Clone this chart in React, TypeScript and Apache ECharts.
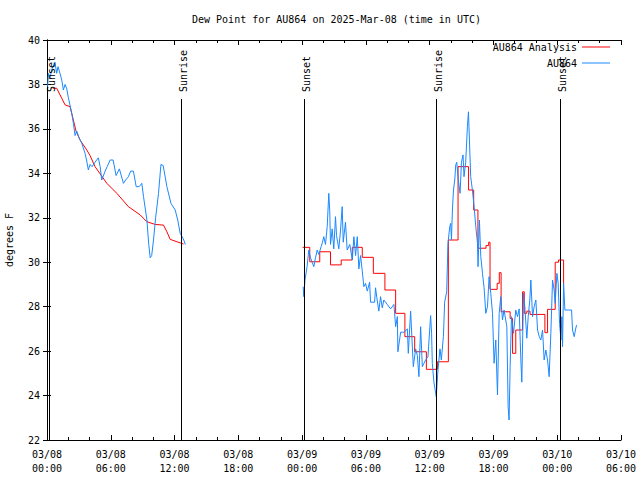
import React, { useEffect, useRef } from 'react';
import * as echarts from 'echarts';

const FONT = '"DejaVu Sans Mono", "Liberation Mono", monospace';

const titleText = 'Dew Point for AU864 on 2025-Mar-08 (time in UTC)';
const yAxisTitle = 'degrees F';
const analysisName = 'AU864 Analysis';
const obsName = 'AU864';

// hours since 03/08 00:00 UTC
const sunT = [0.15, 12.63, 24.16, 36.57, 48.28];
const sunLabels = ['Sunset', 'Sunrise', 'Sunset', 'Sunrise', 'Sunset'];

const redSeg1T = [0.54, 0.91, 1.7, 2.17, 2.48, 2.73, 3.11, 3.74, 4.05, 4.52, 5.63, 6.57, 7.66, 8.76, 9.4, 10.18, 10.96, 11.28, 11.59, 12.22, 12.85];
const redSeg1V = [37.83, 37.83, 37.08, 37.0, 36.4, 35.9, 35.5, 35.05, 34.8, 34.3, 33.55, 33.1, 32.5, 32.13, 31.82, 31.7, 31.67, 31.37, 31.03, 30.92, 30.82];

const redSeg2T = [24.05, 24.72, 25.66, 26.67, 27.68, 28.72, 29.66, 30.7, 31.79, 32.8, 33.67, 34.59, 35.69, 36.73, 37.76, 38.67, 39.66, 40.14, 40.54, 41.3, 41.55, 41.68, 42.35, 42.55, 42.72, 43.57, 43.8, 44.1, 44.74, 44.9, 45.14, 45.44, 46.84, 47.09, 47.81, 48.13, 48.6];
const redSeg2V = [30.67, 30.02, 30.47, 29.88, 30.1, 30.67, 30.22, 29.5, 28.75, 27.7, 26.65, 25.97, 25.18, 25.52, 31.0, 34.3, 33.25, 32.35, 30.63, 30.75, 30.9, 28.78, 29.05, 29.53, 27.77, 27.47, 25.9, 26.95, 28.67, 27.7, 27.8, 27.65, 26.83, 27.88, 30.0, 30.1, 29.0];

const blueSeg1T = [0.05, 0.14, 0.28, 0.47, 0.75, 0.91, 1.04, 1.16, 1.39, 1.54, 1.7, 1.86, 2.01, 2.33, 2.5, 2.64, 2.8, 3.02, 3.27, 3.58, 3.72, 3.89, 4.05, 4.24, 4.52, 4.83, 5.0, 5.15, 5.47, 5.66, 5.94, 6.22, 6.5, 6.81, 7.19, 7.4, 7.66, 7.87, 8.13, 8.39, 8.67, 8.92, 9.08, 9.4, 9.57, 9.71, 9.85, 10.02, 10.22, 10.49, 10.72, 10.93, 11.28, 11.66, 12.06, 12.3, 12.53, 12.79, 12.91, 13.0];
const blueSeg1V = [37.9, 38.5, 38.3, 38.7, 39.0, 38.5, 38.8, 38.6, 38.2, 37.75, 38.0, 37.8, 37.4, 36.7, 36.2, 35.7, 35.9, 35.6, 35.35, 34.9, 34.6, 34.15, 34.4, 34.3, 34.5, 34.7, 34.3, 33.7, 34.1, 34.3, 34.6, 34.6, 33.9, 34.2, 33.55, 33.7, 33.85, 34.1, 34.1, 33.4, 33.4, 33.55, 32.95, 31.9, 30.8, 30.2, 30.3, 31.0, 32.0, 33.1, 34.4, 34.35, 33.4, 32.65, 32.35, 31.9, 31.3, 31.08, 30.95, 30.8];

const blueSeg2T = [24.1, 24.16, 24.27, 24.47, 24.63, 24.79, 24.95, 25.1, 25.26, 25.42, 25.57, 25.79, 25.92, 26.04, 26.2, 26.36, 26.51, 26.6, 26.67, 26.83, 26.98, 27.14, 27.24, 27.45, 27.61, 27.77, 27.87, 28.08, 28.24, 28.49, 28.72, 28.87, 29.03, 29.19, 29.34, 29.5, 29.66, 29.81, 29.97, 30.13, 30.35, 30.44, 30.82, 30.91, 31.03, 31.22, 31.38, 31.54, 31.69, 32.01, 32.32, 32.64, 32.8, 32.96, 33.01, 33.27, 33.58, 33.9, 33.99, 34.21, 34.46, 34.68, 34.84, 34.99, 35.15, 35.31, 35.46, 35.62, 35.84, 36.09, 36.18, 36.25, 36.4, 36.62, 36.78, 36.97, 37.1, 37.29, 37.41, 37.6, 37.72, 37.89, 37.98, 38.05, 38.14, 38.24, 38.36, 38.45, 38.55, 38.67, 38.86, 38.99, 39.14, 39.23, 39.39, 39.55, 39.65, 39.74, 39.86, 40.02, 40.18, 40.34, 40.5, 40.55, 40.68, 40.81, 40.97, 41.12, 41.28, 41.44, 41.59, 41.75, 41.91, 42.06, 42.22, 42.38, 42.54, 42.69, 42.85, 43.0, 43.26, 43.38, 43.47, 43.57, 43.7, 43.89, 44.1, 44.26, 44.42, 44.58, 44.67, 44.83, 44.95, 45.14, 45.27, 45.42, 45.52, 45.68, 45.83, 45.99, 46.15, 46.31, 46.46, 46.62, 46.77, 46.93, 47.09, 47.24, 47.4, 47.56, 47.71, 47.81, 47.97, 48.09, 48.22, 48.35, 48.44, 48.5, 48.6, 48.72, 49.1, 49.35, 49.44, 49.6, 49.71, 49.82];
const blueSeg2V = [28.9, 28.45, 29.2, 29.8, 30.55, 30.2, 30.0, 29.8, 30.2, 30.55, 30.35, 30.7, 30.9, 31.15, 30.8, 31.6, 33.1, 32.3, 30.8, 31.5, 30.6, 32.05, 31.2, 30.6, 31.4, 32.5, 30.9, 31.8, 30.55, 30.8, 30.1, 31.15, 30.3, 31.15, 29.7, 30.3, 29.6, 28.9, 29.05, 28.7, 29.1, 28.2, 28.2, 28.85, 28.4, 27.8, 28.45, 27.95, 28.3, 28.1, 27.9, 28.1, 27.1, 27.55, 25.97, 26.85, 26.85, 27.0, 25.9, 27.8, 25.3, 26.1, 25.8, 24.85, 27.1, 25.3, 25.45, 25.6, 25.75, 27.6, 26.8, 25.45, 24.6, 23.95, 25.15, 26.1, 25.6, 26.65, 28.2, 28.67, 30.85, 31.6, 31.75, 31.0, 32.35, 33.25, 33.7, 34.37, 34.5, 33.8, 33.1, 34.5, 34.83, 33.85, 34.5, 36.1, 36.77, 35.5, 33.85, 33.25, 32.5, 31.6, 30.85, 29.8, 31.9, 30.25, 29.5, 28.85, 27.7, 28.0, 29.35, 28.6, 27.7, 25.45, 26.5, 24.03, 27.7, 28.45, 27.4, 27.85, 27.1, 23.5, 22.9, 25.3, 27.55, 26.8, 27.85, 27.55, 27.9, 25.6, 24.6, 28.6, 28.0, 26.58, 27.55, 28.3, 29.2, 27.55, 28.0, 28.3, 26.95, 26.65, 26.5, 26.95, 25.6, 26.05, 25.6, 24.85, 26.8, 29.2, 28.75, 28.15, 29.5, 29.05, 27.25, 26.5, 27.55, 26.2, 29.05, 27.85, 27.85, 27.85, 26.95, 26.65, 26.95, 27.17];

const X_MIN = 0;
const X_MAX = 54;
const X_STEP = 6;
const Y_MIN = 22;
const Y_MAX = 40;
const Y_STEP = 2;

const RED = '#ff0000';
const BLUE = '#1b88ff';

const zip = (t: number[], v: number[]) => t.map((x, i) => [x, v[i]]);

const fmtX = (h: number) => {
  const day = 8 + Math.floor(h / 24);
  const hr = Math.round(h % 24);
  const dd = String(day).padStart(2, '0');
  const hh = String(hr).padStart(2, '0');
  return `03/${dd}\n${hh}:00`;
};

const txt = { fontFamily: FONT, fontSize: 10, color: '#000' };

const lineSeries = (name: string, data: number[][], color: string, step?: string) => ({
  type: 'line',
  name,
  data,
  step: step || false,
  symbol: 'none',
  showSymbol: false,
  lineStyle: { color, width: 1 },
  itemStyle: { color },
  emphasis: { disabled: true },
  z: 2,
});

const legendItem = (name: string, top: number) => ({
  data: [name],
  right: 30,
  top,
  padding: 0,
  align: 'right',
  icon: 'rect',
  itemWidth: 28,
  itemHeight: 1,
  selectedMode: false,
  textStyle: txt,
});

export default function App() {
  const ref = useRef<HTMLDivElement>(null);
  useEffect(() => {
    const chart = echarts.init(ref.current!, null, { renderer: 'svg' });
    const axisCommon = {
      axisLine: { show: true, lineStyle: { color: '#000', width: 1 } },
      splitLine: { show: false },
    };
    const option: any = {
      animation: false,
      backgroundColor: '#fff',
      title: {
        text: titleText,
        left: 187,
        top: 9,
        textStyle: { ...txt, fontWeight: 'normal' },
      },
      legend: [legendItem(analysisName, 42), legendItem(obsName, 58)],
      grid: { left: 47, right: 19, top: 40, bottom: 40, outerBoundsMode: 'none', containLabel: false },
      xAxis: [
        {
          type: 'value',
          position: 'bottom',
          min: X_MIN,
          max: X_MAX,
          interval: X_STEP,
          ...axisCommon,
          axisTick: { show: true, inside: true, length: 5, lineStyle: { color: '#000' } },
          minorTick: { show: true, splitNumber: 3, length: 3, lineStyle: { color: '#000' } },
          axisLabel: { ...txt, formatter: fmtX, lineHeight: 14, margin: 7, showMinLabel: true, showMaxLabel: true },
        },
        {
          type: 'value',
          position: 'top',
          min: X_MIN,
          max: X_MAX,
          interval: X_STEP,
          ...axisCommon,
          axisTick: { show: true, inside: true, length: 5, lineStyle: { color: '#000' } },
          minorTick: { show: true, splitNumber: 3, length: 3, lineStyle: { color: '#000' } },
          axisLabel: { show: false },
        },
      ],
      yAxis: [
        {
          type: 'value',
          position: 'left',
          min: Y_MIN,
          max: Y_MAX,
          interval: Y_STEP,
          ...axisCommon,
          axisTick: { show: true, inside: true, length: 4, lineStyle: { color: '#000' } },
          axisLabel: { ...txt, margin: 7 },
          name: yAxisTitle,
          nameLocation: 'middle',
          nameGap: 33,
          nameRotate: 90,
          nameTextStyle: txt,
        },
        {
          type: 'value',
          position: 'right',
          min: Y_MIN,
          max: Y_MAX,
          interval: Y_STEP,
          ...axisCommon,
          axisTick: { show: true, inside: true, length: 4, lineStyle: { color: '#000' } },
          axisLabel: { show: false },
        },
      ],
      series: [
        lineSeries(analysisName, zip(redSeg1T, redSeg1V), RED),
        lineSeries(analysisName, zip(redSeg2T, redSeg2V), RED, 'end'),
        lineSeries(obsName, zip(blueSeg1T, blueSeg1V), BLUE),
        lineSeries(obsName, zip(blueSeg2T, blueSeg2V), BLUE),
        {
          type: 'custom',
          name: 'sun',
          data: sunT.map((t) => [t, Y_MIN]),
          encode: { x: 0, y: 1 },
          clip: false,
          z: 5,
          silent: true,
          renderItem: (params: any, api: any) => {
            const t = api.value(0);
            const bottom = api.coord([t, Y_MIN]);
            const top = api.coord([t, Y_MAX])[1];
            const x = Math.round(bottom[0]) + 0.5;
            return {
              type: 'group',
              children: [
                {
                  type: 'line',
                  shape: { x1: x, y1: top + 59, x2: x, y2: bottom[1] },
                  style: { stroke: '#000', lineWidth: 1 },
                },
                {
                  type: 'text',
                  x: x + 2,
                  y: top + 52,
                  rotation: Math.PI / 2,
                  style: {
                    text: sunLabels[params.dataIndex],
                    fontFamily: FONT,
                    fontSize: 10,
                    fill: '#000',
                    align: 'left',
                    verticalAlign: 'middle',
                    textAlign: 'left',
                    textVerticalAlign: 'middle',
                  },
                },
              ],
            };
          },
        },
      ],
    };
    chart.setOption(option);
    return () => chart.dispose();
  }, []);
  return <div ref={ref} style={{ position: 'fixed', left: 0, top: 0, width: 640, height: 480 }} />;
}
